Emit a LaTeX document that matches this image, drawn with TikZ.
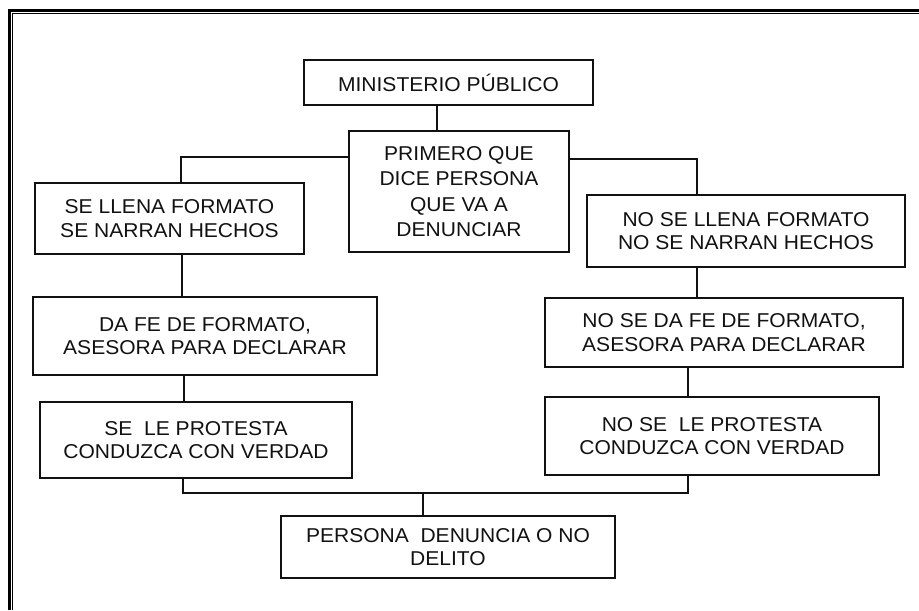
\documentclass[tikz,border=0pt]{standalone}
\usepackage{fontspec}
\setmainfont{Liberation Sans}[FakeStretch=1.05]
\usepackage{tikz}
\usetikzlibrary{positioning,calc}
\definecolor{cInk}{HTML}{111111}
\tikzset{
  pbox/.style={draw=cInk,line width=1.1pt,align=center,inner sep=0pt,text=cInk,
    font=\fontsize{11.4}{13.3}\selectfont},
  conn/.style={line width=1.1pt,draw=cInk},
  frameo/.style={line width=1.7pt,draw=black},
  framei/.style={line width=0.6pt,draw=black},
}

\begin{document}
\begin{tikzpicture}[x=0.02cm,y=-0.02cm]
    \useasboundingbox (0,0) rectangle (919,610);
    % page border (double line, open to the right and below)
    \draw[frameo] (9.5,610) -- (9.5,10.2) -- (919,10.2);
    \draw[framei] (12.6,610) -- (12.6,13.2) -- (919,13.2);
    % boxes, placed at their centres
    \node[pbox,minimum width=5.78cm,minimum height=0.9cm]  (mp)    at (448.5,82.5) {MINISTERIO PÚBLICO};
    \node[pbox,minimum width=4.4cm,minimum height=2.42cm]  (prim)  at (459,191.5)  {PRIMERO QUE\\[1.1pt] DICE PERSONA\\[1.1pt] QUE VA A\\[1.1pt] DENUNCIAR};
    \node[pbox,minimum width=5.38cm,minimum height=1.42cm] (sell)  at (169.5,218.5) {SE LLENA FORMATO\\ SE NARRAN HECHOS};
    \node[pbox,minimum width=6.88cm,minimum height=1.56cm] (dafe)  at (205,336)    {DA FE DE FORMATO,\\ ASESORA PARA DECLARAR};
    \node[pbox,minimum width=6.24cm,minimum height=1.52cm] (sprot) at (196,440)    {SE~~LE PROTESTA\\ CONDUZCA CON VERDAD};
    \node[pbox,minimum width=6.36cm,minimum height=1.44cm] (nsell) at (746,231)    {NO SE LLENA FORMATO\\ NO SE NARRAN HECHOS};
    \node[pbox,minimum width=7.16cm,minimum height=1.38cm] (ndafe) at (724,332.5)  {NO SE DA FE DE FORMATO,\\ ASESORA PARA DECLARAR};
    \node[pbox,minimum width=6.68cm,minimum height=1.56cm] (nprot) at (712,436)    {NO SE~~LE PROTESTA\\ CONDUZCA CON VERDAD};
    \node[pbox,minimum width=6.68cm,minimum height=1.24cm] (pers)  at (448,547)    {PERSONA~~DENUNCIA O NO\\ DELITO};
    % connectors
    \coordinate (jn) at (423,493);
    \draw[conn] (mp.south -| 437,0) -- (prim.north -| 437,0);
    \draw[conn] (prim.west |- 0,157) -| (sell.north -| 181,0);
    \draw[conn] (prim.east |- 0,159) -| (nsell.north -| 697,0);
    \draw[conn] (sell.south -| 182,0) -- (dafe.north -| 182,0);
    \draw[conn] (dafe.south -| 184,0) -- (sprot.north -| 184,0);
    \draw[conn] (nsell.south -| 697,0) -- (ndafe.north -| 697,0);
    \draw[conn] (ndafe.south -| 688,0) -- (nprot.north -| 688,0);
    \draw[conn] (sprot.south -| 183,0) |- (jn) -| (nprot.south -| 688,0);
    \draw[conn] (jn) -- (pers.north -| jn);
\end{tikzpicture}
\end{document}
